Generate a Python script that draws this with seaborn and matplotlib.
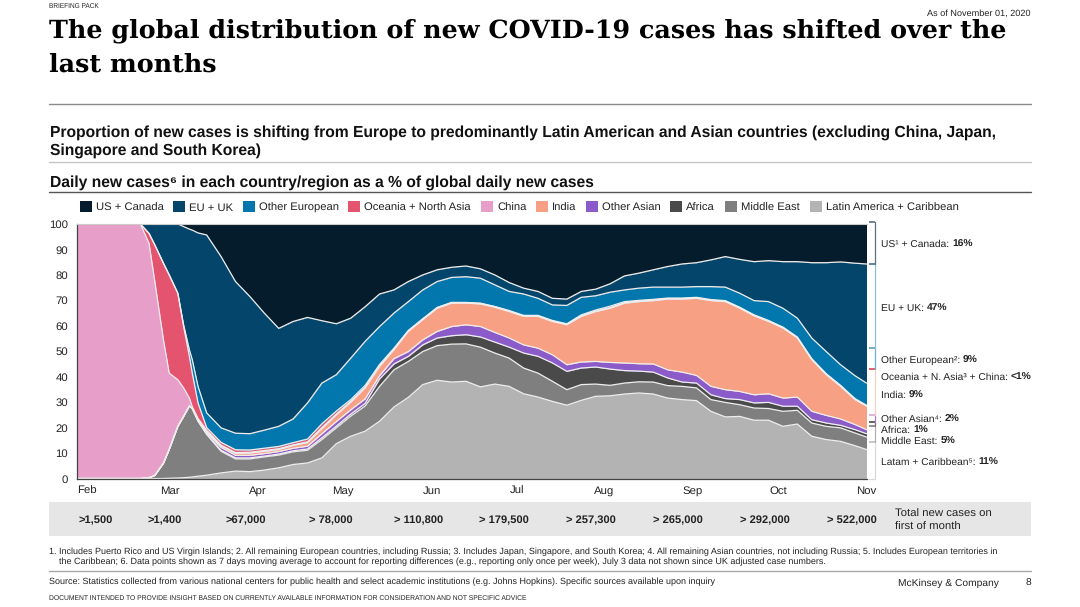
import numpy as np
import pandas as pd
import matplotlib
matplotlib.use('Agg')
import matplotlib.pyplot as plt
from matplotlib.patches import Rectangle
import seaborn as sns

# x = days since Feb 1, every series is the top edge of its band in the stack (%)
days = [0, 5, 10, 15, 20, 22, 25, 27, 30, 32, 35, 37, 39, 40, 42, 45] + list(range(50, 271, 5)) + [274]

latam_top = [0, 0, 0, 0, 0, 0, 0, 0, 0, 0.1, 0.2, 0.3, 0.5, 0.6, 0.9, 1.3,
             2.2, 2.9, 2.7, 3.3, 4.2, 5.5, 6.1, 8.1, 13.7, 16.6, 18.6, 22.5, 28.1, 31.9, 36.9, 38.6, 37.9, 38.2,
             36, 37.1, 36.2, 33.3, 32, 30.3, 28.8, 30.7, 32.3, 32.5, 33.2, 33.6, 33.2, 31.6, 31, 30.6, 26.4, 24.2,
             24.4, 22.9, 22.9, 20.5, 21.4, 16.6, 15.3, 14.6, 12.9, 11.4]
mideast_top = [0, 0, 0, 0, 0, 0, 0.3, 1.2, 6, 11.4, 20.5, 24.4, 28.5, 27.5, 22.5, 17.3,
               10.7, 7.7, 7.7, 8.5, 9.2, 10.5, 11.1, 15.3, 19.9, 24.5, 28.5, 36.2, 42.7, 46, 49.9, 52.2, 52.8, 52.9,
               51.6, 49.3, 47.3, 43.4, 41.4, 38.2, 34.9, 36.9, 37.1, 36.6, 37.5, 38, 37.9, 36.5, 36.2, 35.6, 31, 29.9,
               29, 27.7, 27.5, 26.4, 26.8, 21.8, 20.5, 19.9, 17.9, 16.3]
africa_top = [0, 0, 0, 0, 0, 0, 0.3, 1.2, 6, 11.4, 20.5, 24.4, 28.5, 27.5, 22.6, 17.5,
              11.1, 8.1, 8.1, 8.8, 9.6, 10.9, 11.6, 16, 20.6, 25.3, 29.5, 39.1, 45, 48, 52.5, 55.2, 56.1, 56.5,
              55.6, 53.6, 51.6, 49.3, 48, 45.4, 42.1, 43.4, 43.8, 43, 42.4, 42.2, 41.8, 39.5, 37.9, 37.5, 32.9, 31.4,
              31, 29.7, 29.9, 28.4, 28.4, 23.1, 21.8, 20.9, 19.2, 17.6]
other_asian_top = [0, 0, 0, 0, 0, 0, 0.3, 1.2, 6, 11.4, 20.5, 24.4, 28.5, 27.5, 22.8, 18,
                   12.2, 9.1, 9.1, 9.8, 10.6, 11.9, 12.7, 17.6, 22.4, 27, 31.3, 40.4, 47.1, 49.9, 54.5, 57.8, 59.7, 60.4,
                   59.7, 57.4, 55.2, 52.5, 51.2, 48.6, 44.7, 45.8, 46, 45.6, 45.4, 45.1, 45, 42.7, 41.8, 40.5, 36.2, 34.9,
                   34.2, 32.9, 33.3, 31.6, 32, 26.4, 24.8, 23.4, 21.2, 19.2]
india_top = [0, 0, 0, 0, 0, 0, 0.3, 1.2, 6, 11.4, 20.5, 24.4, 28.5, 27.5, 23, 18.3,
             12.8, 9.9, 10, 10.7, 11.4, 13, 14.1, 19.6, 25, 30, 35.6, 44, 50.6, 57.8, 62.4, 66.9, 68.9, 68.9,
             68.6, 67.3, 65.6, 63.7, 63.7, 61.7, 60.4, 63.7, 65.6, 66.9, 68.9, 69.5, 69.9, 70.5, 70.5, 70.8, 69.9, 69.5,
             66.9, 63.9, 61.7, 59.1, 55.2, 46.7, 40.8, 36.2, 31, 28.4]
china_top = [100, 100, 100, 100, 100, 100, 92.4, 77.4, 54.5, 41.4, 38.8, 35.6, 31.6, 28.2, 23.6, 19,
             13.1, 10.2, 10.3, 11, 11.7, 13.2, 14.4, 20, 25.3, 30.3, 35.8, 44.2, 50.8, 58, 62.6, 67.1, 69.1, 69.1,
             68.8, 67.5, 65.8, 63.9, 63.9, 61.9, 60.6, 63.9, 65.8, 67.1, 69.1, 69.7, 70.1, 70.7, 70.7, 71, 70.1, 69.7,
             67.1, 64.1, 61.9, 59.3, 55.4, 46.9, 41, 36.4, 31.2, 28.6]
oceania_top = [100, 100, 100, 100, 100, 100, 96.3, 91.8, 84.6, 80, 72.8, 59.7, 48, 41.4, 29.7, 20,
               14.2, 11.3, 11.2, 11.9, 12.6, 14.1, 15.5, 21.5, 26.5, 31, 36.6, 44.8, 51.2, 58.2, 62.8, 67.2, 69.2, 69.2,
               68.9, 67.6, 66, 64.1, 64.1, 62.1, 60.8, 64.3, 66.2, 67.7, 69.5, 70, 70.4, 70.9, 70.9, 71.2, 70.3, 69.9,
               67.3, 64.3, 62.1, 59.5, 55.6, 47.1, 41.2, 36.6, 31.4, 28.8]
other_eu_top = [100, 100, 100, 100, 100, 100, 96.3, 91.8, 84.6, 80, 72.8, 60.4, 50.6, 46.7, 36.2, 25.8,
                19.9, 17.8, 17.6, 19, 20.5, 23.4, 29.7, 37.5, 40.8, 47.3, 53.9, 59.7, 65, 69.5, 74.1, 77.4, 79, 79.3,
                78.7, 76.1, 73.5, 72.5, 70.8, 68.2, 68, 71.2, 71.8, 73.2, 74.1, 74.8, 75.2, 75.2, 75.2, 75.4, 75.4, 75.2,
                72.8, 69.9, 69.5, 66.9, 63, 55.2, 49.9, 44.7, 40.4, 37.5]
eu_uk_top = [100, 100, 100, 100, 100, 100, 100, 100, 100, 100, 100, 99, 98, 97.6, 96.5, 95.7,
             87.2, 77.4, 71.5, 65, 59, 61.7, 63.3, 62, 60.8, 63, 67.5, 72.5, 74.1, 77.4, 80, 82, 83, 83.5,
             82.4, 80, 77, 74.8, 73.5, 70.8, 70.5, 73.5, 74.4, 76.5, 79.6, 80.7, 82, 83.3, 84.3, 84.8, 85.9, 87.2,
             86.1, 85.2, 85.6, 85.2, 85.2, 84.8, 84.8, 85.1, 84.6, 84.3]
us_canada_top = [100] * len(days)

month_labels = ['Feb', 'Mar', 'Apr', 'May', 'Jun', 'Jul', 'Aug', 'Sep', 'Oct', 'Nov']
month_days = [3.5, 32.3, 62.8, 92.3, 123.1, 152.6, 183.1, 213.6, 243.4, 274]
month_totals = ['>1,500', '>1,400', '>67,000', '> 78,000', '> 110,800', '> 179,500',
                '> 257,300', '> 265,000', '> 292,000', '> 522,000']

legend_names = ['US + Canada', 'EU + UK', 'Other European', 'Oceania + North Asia', 'China', 'India',
                'Other Asian', 'Africa', 'Middle East', 'Latin America + Caribbean']
legend_colors = ['#051c2c', '#03456b', '#0277ad', '#e5546f', '#e79ec8', '#f7a083',
                 '#8b5bc9', '#4a4a4a', '#7f7f7f', '#b3b3b3']

end_labels = ['US¹ + Canada: ', 'EU + UK: ', 'Other European²: ', 'Oceania + N. Asia³ + China: ', 'India: ',
              'Other Asian⁴: ', 'Africa: ', 'Middle East: ', 'Latam + Caribbean⁵: ']
end_values = ['16%', '47%', '9%', '<1%', '9%', '2%', '1%', '5%', '11%']

# bracket edges right of the chart, bottom to top, in axis units
bracket_edges = [0, 14.5, 20.8, 22.2, 25, 43, 43.2, 51.3, 84.3, 100.6]

sns.set_theme(style='white')
SANS = ['Liberation Sans', 'DejaVu Sans']
plt.rcParams['font.family'] = SANS
plt.rcParams['text.hinting'] = 'no_hinting'

fig = plt.figure(figsize=(10.8, 6.07), dpi=100)
page = fig.add_axes([0, 0, 1, 1])
page.set_xlim(0, 1080)
page.set_ylim(607, 0)
page.axis('off')

ax = fig.add_axes([77 / 1080, 1 - 478.5 / 607, 789.5 / 1080, 254.5 / 607])

# bottom to top
tops = [latam_top, mideast_top, africa_top, other_asian_top, india_top, china_top,
        oceania_top, other_eu_top, eu_uk_top, us_canada_top]
stack_colors = ['#b3b3b3', '#7f7f7f', '#4a4a4a', '#8b5bc9', '#f7a083', '#e79ec8',
                '#e5546f', '#0277ad', '#03456b', '#051c2c']
tops = np.array(tops, dtype=float)
shares = np.diff(tops, axis=0, prepend=0)
ax.stackplot(days, shares, colors=stack_colors, linewidth=0)

# white edges between the bands
edges = pd.concat([pd.DataFrame({'day': days, 'value': t, 'band': i}) for i, t in enumerate(tops[:-1])])
sns.lineplot(data=edges, x='day', y='value', units='band', estimator=None, sort=False,
             color='#eeeeee', linewidth=0.9, ax=ax, legend=False)

ax.set_xlim(0, 274)
ax.set_ylim(0, 100)
ax.set_xticks(month_days, month_labels)
ax.set_yticks(range(0, 101, 10))
ax.set_xlabel('')
ax.set_ylabel('')
ax.tick_params(axis='both', labelsize=8.2, length=0, colors='#222222')
ax.tick_params(axis='y', pad=6.5)
ax.tick_params(axis='x', pad=11.2)
for lab in ax.get_xticklabels():
    lab.set_va('baseline')
sns.despine(ax=ax, top=False, right=True)
ax.spines['left'].set_color('#444444')
ax.spines['bottom'].set_color('#444444')
ax.spines['top'].set_color('#cccccc')
ax.spines['left'].set_linewidth(0.9)
ax.spines['bottom'].set_linewidth(0.9)
ax.spines['top'].set_linewidth(0.8)

# brackets, pale upright with a stronger tick at the top of each
to_y = lambda v: 478.5 - v * 2.545
upright_colors = ['#d9d9d9', '#b0b0b0', '#777777', '#a57fd6', '#fbd0c0', '#e5546f', '#6fb0d0', '#8fbdd3', '#5c6f7c']
tick_colors = ['#bdbdbd', '#7f7f7f', '#4a4a4a', '#d9a6d8', '#f7a083', '#e5546f', '#5f9fc0', '#3f6f8c', '#5c6f7c']
for lo, hi, col, tick in zip(bracket_edges[:-1], bracket_edges[1:], upright_colors, tick_colors):
    page.plot([875, 875], [to_y(hi), to_y(lo)], color=col, lw=0.9)
    page.plot([869, 875], [to_y(hi), to_y(hi)], color=tick, lw=1.2, solid_capstyle='butt')
page.plot([869, 875], [478.5, 478.5], color='#d9d9d9', lw=0.9)

renderer = fig.canvas.get_renderer()


def txt(x, y, s, size=8, weight='normal', color='#222222', ha='left', family=SANS):
    # y is the middle of the capitals, so lines with and without descenders stay level
    return page.text(x, y + 0.5 * size, s, fontsize=size, fontweight=weight, color=color, ha=ha,
                     va='baseline', family=family)


# header
txt(49, 6, 'BRIEFING PACK', size=4.7)
txt(1031, 13, 'As of November 01, 2020', size=6.55, ha='right')
txt(49, 28.5, 'The global distribution of new COVID-19 cases has shifted over the', size=18.3,
    weight='bold', color='#000000', family='DejaVu Serif')
txt(49, 62.5, 'last months', size=18.3, weight='bold', color='#000000', family='DejaVu Serif')
page.plot([49, 1031], [104, 104], color='#8a8a8a', lw=1)
txt(50, 131, 'Proportion of new cases is shifting from Europe to predominantly Latin American and Asian countries (excluding China, Japan,',
    size=11.27, weight='bold', color='#111111')
txt(50, 149, 'Singapore and South Korea)', size=11.27, weight='bold', color='#111111')
page.plot([49, 1031], [162, 162], color='#c4c4c4', lw=1)
txt(50, 181, 'Daily new cases⁶ in each country/region as a % of global daily new cases', size=11.27,
    weight='bold', color='#111111')
page.plot([49, 1031], [191.5, 191.5], color='#555555', lw=1)

# legend
legend_box_x = [80, 173, 243, 348, 481, 536, 586, 670, 725, 810]
for bx, name, col in zip(legend_box_x, legend_names, legend_colors):
    page.add_patch(Rectangle((bx, 201), 12, 10.5, color=col, lw=0))
    txt(bx + 16, 206.5, name, size=8.1)

# labels next to the brackets, value part in bold
end_y = [243, 307, 359, 376, 394, 418, 429, 440, 461]
for y, lab, val in zip(end_y, end_labels, end_values):
    t = txt(881, y, lab, size=7.35)
    w = t.get_window_extent(renderer).width
    txt(881 + w, y, val, size=7.35, weight='bold')

# totals strip
page.add_patch(Rectangle((49, 502), 982, 34, color='#e6e6e6', lw=0))
total_x = [95.7, 165, 246, 331, 419, 504, 591, 678, 765, 852]
for x, s in zip(total_x, month_totals):
    txt(x, 519, s, size=8, weight='bold', ha='center')
txt(895, 513, 'Total new cases on', size=8.2)
txt(895, 526, 'first of month', size=8.2)

# footnotes
txt(49, 551, '1. Includes Puerto Rico and US Virgin Islands; 2. All remaining European countries, including Russia; 3. Includes Japan, Singapore, and South Korea; 4. All remaining Asian countries, not including Russia; 5. Includes European territories in',
    size=6.52)
txt(59, 561, 'the Caribbean; 6. Data points shown as 7 days moving average to account for reporting differences (e.g., reporting only once per week), July 3 data not shown since UK adjusted case numbers.',
    size=6.52)
page.plot([49, 1031], [571, 571], color='#a8a8a8', lw=1)
txt(49, 581, 'Source: Statistics collected from various national centers for public health and select academic institutions (e.g. Johns Hopkins). Specific sources available upon inquiry',
    size=6.5)
txt(898, 582, 'McKinsey & Company', size=7.4)
txt(1031, 582, '8', size=7.4, ha='right')
txt(49, 598, 'DOCUMENT INTENDED TO PROVIDE INSIGHT BASED ON CURRENTLY AVAILABLE INFORMATION FOR CONSIDERATION AND NOT SPECIFIC ADVICE',
    size=4.86)

fig.savefig('out.png', dpi=100)
